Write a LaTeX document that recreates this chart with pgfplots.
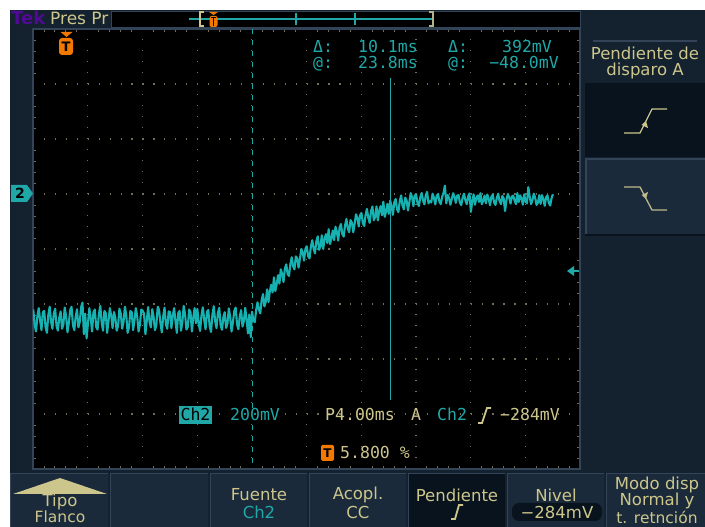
\documentclass[border=0pt]{standalone}
\usepackage{fontspec}
\setmainfont{DejaVu Sans}
\newfontfamily\mono{DejaVu Sans Mono}
\usepackage{pgfplots}
\pgfplotsset{compat=1.18}
\definecolor{navy}{RGB}{20,33,46}
\definecolor{navyd}{RGB}{8,19,30}
\definecolor{navyl}{RGB}{26,42,58}
\definecolor{edge}{RGB}{52,68,88}
\definecolor{trace}{RGB}{22,178,178}
\definecolor{cyt}{RGB}{32,168,168}
\definecolor{tan}{RGB}{205,198,140}
\definecolor{orng}{RGB}{242,120,0}
\definecolor{tekp}{RGB}{80,10,150}
\definecolor{gridc}{RGB}{115,110,85}
\begin{document}
\begin{tikzpicture}
\fill[white] (0pt,0pt) rectangle (705pt,527pt);
\fill[navy] (10pt,0pt) rectangle (705pt,517pt);
\begin{axis}[
  at={(33pt,58pt)}, anchor=south west,
  scale only axis, width=547pt, height=440pt,
  xmin=-2.32, xmax=37.68, ymin=-1000, ymax=600,
  axis background/.style={fill=black},
  axis line style={draw=edge, line width=1.2pt},
  xtick={-2.32,1.68,5.68,9.68,13.68,17.68,21.68,25.68,29.68,33.68,37.68},
  ytick={-1000,-800,-600,-400,-200,0,200,400,600},
  minor x tick num=4, minor y tick num=4,
  xticklabels={}, yticklabels={},
  tick align=inside, tick pos=both,
  major tick length=0pt, minor tick length=3pt,
  tick style={draw=gridc, line width=0.8pt},
  grid=major,
  x grid style={draw=gridc, line width=1.2pt, dash pattern=on 1.2pt off 9.8pt},
  y grid style={draw=gridc, line width=1.2pt, dash pattern=on 1.2pt off 9.74pt},
]
\addplot[trace, line width=2.1pt, line join=round, mark=none] coordinates {
(-2.3,-420) (-2.2,-475) (-2.1,-500) (-2.0,-445) (-1.9,-415) (-1.8,-460) (-1.7,-495) (-1.6,-430) (-1.5,-425) (-1.4,-485)
(-1.3,-505) (-1.2,-440) (-1.1,-410) (-1.0,-465) (-0.9,-490) (-0.8,-435) (-0.7,-417) (-0.6,-480) (-0.5,-497) (-0.4,-450)
(-0.3,-427) (-0.2,-490) (-0.1,-475) (0.0,-413) (0.1,-445) (0.2,-503) (0.3,-470) (0.4,-422) (0.5,-410) (0.6,-477)
(0.7,-495) (0.8,-447) (0.9,-419) (1.0,-485) (1.1,-465) (1.2,-411) (1.3,-395) (1.4,-510) (1.5,-435) (1.6,-525)
(1.7,-470) (1.8,-415) (1.9,-450) (2.0,-500) (2.1,-430) (2.2,-420) (2.3,-483) (2.4,-493) (2.5,-437) (2.6,-407)
(2.7,-467) (2.8,-497) (2.9,-425) (3.0,-433) (3.1,-505) (3.2,-463) (3.3,-415) (3.4,-443) (3.5,-488) (3.6,-429)
(3.7,-450) (3.8,-497) (3.9,-480) (4.0,-417) (4.1,-435) (4.2,-490) (4.3,-465) (4.4,-410) (4.5,-440) (4.6,-505)
(4.7,-485) (4.8,-425) (4.9,-430) (5.0,-495) (5.1,-460) (5.2,-415) (5.3,-445) (5.4,-500) (5.5,-475) (5.6,-420)
(5.7,-425) (5.8,-435) (5.9,-510) (6.0,-460) (6.1,-411) (6.2,-465) (6.3,-485) (6.4,-419) (6.5,-447) (6.6,-495)
(6.7,-477) (6.8,-410) (6.9,-422) (7.0,-470) (7.1,-503) (7.2,-445) (7.3,-413) (7.4,-475) (7.5,-490) (7.6,-427)
(7.7,-429) (7.8,-488) (7.9,-443) (8.0,-415) (8.1,-463) (8.2,-505) (8.3,-433) (8.4,-425) (8.5,-497) (8.6,-467)
(8.7,-407) (8.8,-437) (8.9,-493) (9.0,-483) (9.1,-420) (9.2,-430) (9.3,-500) (9.4,-450) (9.5,-415) (9.6,-470)
(9.7,-418) (9.8,-472) (9.9,-498) (10.0,-442) (10.1,-412) (10.2,-458) (10.3,-492) (10.4,-428) (10.5,-422) (10.6,-482)
(10.7,-502) (10.8,-438) (10.9,-408) (11.0,-462) (11.1,-488) (11.2,-432) (11.3,-414) (11.4,-478) (11.5,-494) (11.6,-448)
(11.7,-430) (11.8,-487) (11.9,-472) (12.0,-416) (12.1,-448) (12.2,-500) (12.3,-467) (12.4,-425) (12.5,-413) (12.6,-474)
(12.7,-492) (12.8,-444) (12.9,-422) (13.0,-482) (13.1,-462) (13.2,-414) (13.3,-457) (13.4,-507) (13.5,-438) (13.6,-520)
(13.7,-428) (13.8,-461) (13.9,-466) (14.0,-421) (14.1,-394) (14.2,-421) (14.3,-434) (14.4,-386) (14.5,-364) (14.6,-409)
(14.7,-392) (14.8,-347) (14.9,-393) (15.0,-353) (15.1,-330) (15.2,-358) (15.3,-303) (15.4,-353) (15.5,-328) (15.6,-295)
(15.7,-326) (15.8,-274) (15.9,-291) (16.0,-320) (16.1,-271) (16.2,-256) (16.3,-291) (16.4,-298) (16.5,-255) (16.6,-230)
(16.7,-263) (16.8,-274) (16.9,-227) (17.0,-234) (17.1,-268) (17.2,-236) (17.3,-200) (17.4,-212) (17.5,-242) (17.6,-200)
(17.7,-190) (17.8,-226) (17.9,-234) (18.0,-192) (18.1,-168) (18.2,-199) (18.3,-216) (18.4,-172) (18.5,-154) (18.6,-203)
(18.7,-190) (18.8,-150) (18.9,-200) (19.0,-164) (19.1,-146) (19.2,-178) (19.3,-128) (19.4,-182) (19.5,-162) (19.6,-133)
(19.7,-168) (19.8,-119) (19.9,-138) (20.0,-169) (20.1,-122) (20.2,-109) (20.3,-146) (20.4,-155) (20.5,-114) (20.6,-91)
(20.7,-126) (20.8,-139) (20.9,-95) (21.0,-104) (21.1,-139) (21.2,-108) (21.3,-74) (21.4,-87) (21.5,-118) (21.6,-77)
(21.7,-69) (21.8,-106) (21.9,-116) (22.0,-76) (22.1,-54) (22.2,-87) (22.3,-105) (22.4,-62) (22.5,-45) (22.6,-95)
(22.7,-84) (22.8,-45) (22.9,-96) (23.0,-61) (23.1,-44) (23.2,-77) (23.3,-28) (23.4,-83) (23.5,-64) (23.6,-36)
(23.7,-72) (23.8,-24) (23.9,-44) (24.0,-76) (24.1,-30) (24.2,-18) (24.3,-56) (24.4,-66) (24.5,-27) (24.6,-5)
(24.7,-42) (24.8,-56) (24.9,-13) (25.0,-23) (25.1,-60) (25.2,-30) (25.3,3) (25.4,-11) (25.5,-44) (25.6,-5)
(25.7,-3) (25.8,-34) (25.9,-44) (26.0,-13) (26.1,4) (26.2,-23) (26.3,-38) (26.4,-5) (26.5,8) (26.6,-34)
(26.7,-25) (26.8,-31) (26.9,1) (27.0,-14) (27.1,-38) (27.2,-7) (27.3,0) (27.4,-28) (27.5,-37) (27.6,-10)
(27.7,4) (27.8,30) (27.9,-34) (28.0,-4) (28.1,-13) (28.2,-39) (28.3,-20) (28.4,3) (28.5,-9) (28.6,-32)
(28.7,-6) (28.8,-4) (28.9,-32) (29.0,-40) (29.1,-13) (29.2,1) (29.3,-23) (29.4,-37) (29.5,-9) (29.6,2)
(29.7,-65) (29.8,-27) (29.9,-1) (30.0,-39) (30.1,-15) (30.2,-5) (30.3,-29) (30.4,3) (30.5,-37) (30.6,-25)
(30.7,-6) (30.8,-34) (30.9,-2) (31.0,-17) (31.1,-41) (31.2,-10) (31.3,-3) (31.4,-31) (31.5,-40) (31.6,-13)
(31.7,1) (31.8,-26) (31.9,-37) (32.0,-7) (32.1,-16) (32.2,-62) (32.3,-23) (32.4,0) (32.5,-12) (32.6,-35)
(32.7,-9) (32.8,-6) (32.9,-25) (33.0,-37) (33.1,3) (33.2,-29) (33.3,-5) (33.4,-15) (33.5,-39) (33.6,-1)
(33.7,-27) (33.8,-34) (33.9,25) (34.0,-9) (34.1,-37) (34.2,-23) (34.3,1) (34.4,-13) (34.5,-40) (34.6,-32)
(34.7,-4) (34.8,-36) (34.9,-4) (35.0,-19) (35.1,-43) (35.2,-12) (35.3,-5) (35.4,-33) (35.5,-42) (35.6,-15)
(35.7,-1)
};
\draw[cyt, line width=1pt, dash pattern=on 5pt off 6pt] (axis cs:13.7,600) -- (axis cs:13.7,-1000);
\draw[cyt, line width=1pt] (axis cs:23.8,422) -- (axis cs:23.8,-749);
\end{axis}
\begin{scope}[x=1pt,y=-1pt,yshift=527pt]
\tikzset{ro/.style={font=\mono\fontsize{16.5}{18}\selectfont, inner sep=0pt, anchor=base west},
         bt/.style={font=\fontsize{16.5}{18}\selectfont, inner sep=0pt, text=tan}}
% top bar
\node[font=\bfseries\fontsize{18}{20}\selectfont, text=tekp, inner sep=0pt, anchor=base west] at (11,25) {Tek};
\node[font=\fontsize{17}{20}\selectfont, text=tan, inner sep=0pt, anchor=base west] at (50,25) {Pres Pr};
\fill[black] (111,11) rectangle (580,27);
\draw[edge, line width=0.8pt] (111,11) rectangle (580,27);
\draw[cyt, line width=1.2pt] (189,19) -- (432,19);
\draw[cyt, line width=1.2pt] (296,13) -- (296,25) (355,13) -- (355,25);
\draw[tan, line width=1.2pt] (204,12) -- (200,12) -- (200,26) -- (204,26);
\draw[tan!70!gray, line width=1.2pt] (429,12) -- (433,12) -- (433,26) -- (429,26);
\fill[orng] (209,12) -- (218,12) -- (213.5,15) -- cycle;
\fill[orng, rounded corners=2pt] (209.5,16) rectangle (217.5,27);
\draw[black, line width=1pt] (211,18) -- (216,18) (213.5,18) -- (213.5,26);
% screen trigger marker
\fill[orng] (60.5,32) -- (72.5,32) -- (66.5,37) -- cycle;
\fill[orng, rounded corners=3pt] (59,38) rectangle (73,55);
\node[font=\bfseries\fontsize{13}{14}\selectfont, text=black, inner sep=0pt] at (66,46.5) {T};
% channel marker
\fill[cyt] (11,185) -- (27,185) -- (33,193.5) -- (27,202) -- (11,202) -- cycle;
\node[font=\bfseries\fontsize{14}{15}\selectfont, text=black, inner sep=0pt] at (20,193.5) {2};
% trigger level arrow
\fill[cyt] (567,271) -- (574,266) -- (574,276) -- cycle;
\draw[cyt, line width=1.5pt] (573,271) -- (579,271);
% cursor readouts
\node[ro, text=cyt] at (313,53) {Δ:};
\node[ro, text=cyt, anchor=base east] at (418,53) {10.1ms};
\node[ro, text=cyt] at (448,53) {Δ:};
\node[ro, text=cyt, anchor=base east] at (552,53) {392mV};
\node[ro, text=cyt] at (313,69) {@:};
\node[ro, text=cyt, anchor=base east] at (418,69) {23.8ms};
\node[ro, text=cyt] at (448,69) {@:};
\node[ro, text=cyt, anchor=base east] at (559,69) {−48.0mV};
% bottom readouts
\fill[cyt] (179,406) rectangle (212,424);
\node[ro, text=black, anchor=base] at (195.5,421) {Ch2};
\node[ro, text=cyt, fill=black] at (230,421) {200mV};
\node[ro, text=tan] at (325,421) {P4.00ms};
\node[ro, text=tan] at (411,421) {A};
\node[ro, text=cyt] at (437,421) {Ch2};
\draw[tan, line width=1.8pt] (478,423) -- (482,423) -- (487,408) -- (491,408);
\node[ro, text=tan] at (500,421) {−284mV};
\fill[orng, rounded corners=1.5pt] (321,445) rectangle (334,461);
\node[font=\bfseries\fontsize{12}{13}\selectfont, text=black, inner sep=0pt] at (327.5,453) {T};
\node[ro, text=tan] at (340,459) {5.800 \%};
% right panel
\draw[edge, line width=2pt] (593,41.5) -- (697,41.5);
\node[bt, anchor=base] at (645,60) {Pendiente de};
\node[bt, anchor=base] at (645,76) {disparo A};
\fill[navyd] (585,83) rectangle (705,157);
\fill[navyl] (585,159) rectangle (705,235);
\draw[edge, line width=2pt] (585,159) -- (705,159) (586,159) -- (586,235);
\draw[navyd, line width=2pt] (585,235) -- (705,235);
\draw[tan, line width=1.3pt] (624,133) -- (640,133) -- (652,109) -- (667,109);
\fill[tan] (646,121) -- (641.5,125) -- (648,128) -- cycle;
\draw[tan!80!gray, line width=1.3pt] (624,187) -- (640,187) -- (652,210) -- (667,210);
\fill[tan!80!gray] (646,199) -- (641.5,195) -- (648,192) -- cycle;
% bottom buttons
\foreach \a/\b in {10/108,110/208,210/307,309/406,408/505,507/604,606/705} {
  \fill[navyl] (\a,473) rectangle (\b,527);
  \draw[edge, line width=1.5pt] (\a,473.5) -- (\b,473.5) (\a+0.5,473) -- (\a+0.5,527);
}
\fill[navyd] (409,474) rectangle (505,527);
\fill[tan] (13,494) -- (60,478) -- (107,494) -- cycle;
\node[bt] at (60,502) {Tipo};
\node[bt, font=\fontsize{15.5}{17}\selectfont] at (60,517) {Flanco};
\node[bt] at (259,495) {Fuente};
\node[bt, text=cyt] at (259,512) {Ch2};
\node[bt] at (358,495) {Acopl.};
\node[bt] at (358,512) {CC};
\node[bt] at (457,495) {Pendiente};
\draw[tan, line width=1.8pt] (451,519) -- (455,519) -- (459,505) -- (463,505);
\node[bt] at (556,495) {Nivel};
\fill[navyd, rounded corners=7pt] (512,503) rectangle (602,521);
\node[bt] at (557,512) {−284mV};
\node[bt] at (657,485) {Modo disp};
\node[bt] at (657,501) {Normal y};
\node[bt, font=\fontsize{15.5}{17}\selectfont] at (657,517) {t. retnción};
\end{scope}
\pgfresetboundingbox
\path[use as bounding box] (0pt,0pt) rectangle (705pt,527pt);
\end{tikzpicture}
\end{document}
